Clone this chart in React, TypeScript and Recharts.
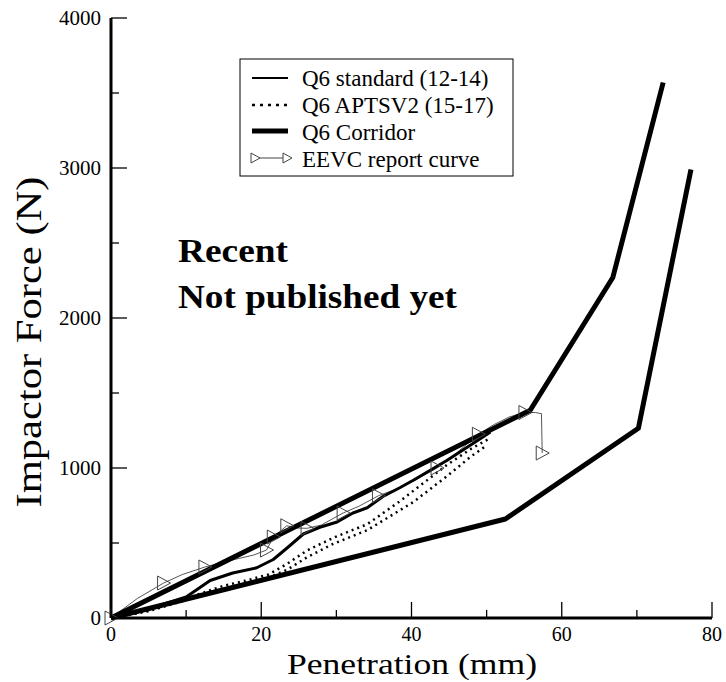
import React from "react";
import { LineChart, Line, XAxis, YAxis } from "recharts";

// Q6 corridor (upper / lower bound)
const corridorUpX = [0, 55.8, 66.8, 73.5];
const corridorUpY = [0, 1385, 2270, 3570];
const corridorLoX = [0, 52.5, 70.2, 77.2];
const corridorLoY = [0, 660, 1265, 2990];

// Q6 standard (12-14)
const standardX = [0, 5, 10, 13.2, 16.2, 19.4, 21.6, 23.4, 25.6, 27.8, 30.1, 32.2, 34.1, 36.2, 38.5, 40.3, 44.7, 49, 50.5];
const standardY = [0, 60, 140, 250, 300, 335, 390, 465, 560, 605, 640, 700, 735, 810, 870, 920, 1050, 1190, 1240];

// Q6 APTSV2 (15-17), two runs
const aptsAX = [0, 5, 10, 15, 18, 21, 23.4, 26.1, 29.6, 34.1, 38.5, 40.3, 44.7, 48, 50.5];
const aptsAY = [0, 50, 130, 215, 250, 290, 360, 450, 535, 625, 780, 850, 1020, 1130, 1200];
const aptsBX = [0, 5, 10, 15, 18, 21, 23.4, 26.1, 29.6, 34.1, 38.5, 40.3, 44.7, 48, 50];
const aptsBY = [0, 45, 120, 195, 235, 270, 320, 405, 495, 585, 720, 775, 945, 1080, 1150];

// EEVC report curve, mark = triangle drawn
const eevcX = [0, 3.5, 7.0, 9.5, 12.5, 16, 19, 20.7, 21.6, 23.4, 24.8, 26.1, 28, 30.9, 33, 35.6, 38, 40.5, 43.4, 46, 48.9, 51, 53, 55.1, 56.5, 57.3, 57.4];
const eevcY = [0, 130, 233, 290, 340, 385, 420, 453, 540, 615, 600, 598, 620, 700, 745, 815, 860, 920, 1000, 1100, 1225, 1290, 1340, 1370, 1370, 1362, 1100];
const eevcMark = [1, 0, 1, 0, 1, 0, 0, 1, 1, 1, 0, 1, 0, 1, 0, 1, 0, 0, 1, 0, 1, 0, 0, 1, 0, 0, 1];

const xTicks = [0, 10, 20, 30, 40, 50, 60, 70, 80];
const yTicks = [0, 500, 1000, 1500, 2000, 2500, 3000, 3500, 4000];

const legendItems = ["Q6 standard (12-14)", "Q6 APTSV2 (15-17)", "Q6 Corridor", "EEVC report curve"];

const pts = (xs: number[], ys: number[]) => xs.map((x, i) => ({ x, y: ys[i] }));

const serif =
  '"Liberation Serif", LiberationSerif, "DejaVu Serif", DejaVuSerif, "Noto Serif", Tinos, FreeSerif, Times, "Times New Roman", serif';

const BottomTick = (p: any) => {
  const v = p.payload.value;
  const major = v % 20 === 0;
  return (
    <g>
      <line x1={p.x} y1={p.y} x2={p.x} y2={p.y - (major ? 16 : 8)} stroke="#000" strokeWidth={1.3} />
      {major && (
        <text x={p.x} y={p.y + 23} textAnchor="middle" fontSize={20} fontFamily={serif} fill="#000">
          {v}
        </text>
      )}
    </g>
  );
};

const TopTick = (p: any) => {
  const major = p.payload.value % 20 === 0;
  return <line x1={p.x} y1={p.y} x2={p.x} y2={p.y + (major ? 16 : 8)} stroke="#000" strokeWidth={1.3} />;
};

const LeftTick = (p: any) => {
  const v = p.payload.value;
  const major = v % 1000 === 0;
  return (
    <g>
      <line x1={p.x} y1={p.y} x2={p.x + (major ? 16 : 8)} y2={p.y} stroke="#000" strokeWidth={1.3} />
      {major && (
        <text x={p.x - 10} y={p.y + 7} textAnchor="end" fontSize={21} fontFamily={serif} fill="#000">
          {v}
        </text>
      )}
    </g>
  );
};

const RightTick = (p: any) => {
  const major = p.payload.value % 1000 === 0;
  return <line x1={p.x} y1={p.y} x2={p.x - (major ? 16 : 8)} y2={p.y} stroke="#000" strokeWidth={1.3} />;
};

const Triangle = (p: any) => {
  if (!p.payload || !p.payload.m) return <g key={p.index} />;
  const { cx, cy } = p;
  return (
    <path
      key={p.index}
      d={`M${cx - 6},${cy - 7} L${cx + 7},${cy} L${cx - 6},${cy + 7} Z`}
      fill="none"
      stroke="#444"
      strokeWidth={1}
    />
  );
};

const App: React.FC = () => {
  const eevc = eevcX.map((x, i) => ({ x, y: eevcY[i], m: eevcMark[i] }));
  const lineProps = { type: "linear" as const, dataKey: "y", dot: false, isAnimationActive: false, strokeLinejoin: "round" as const };

  return (
    <div style={{ position: "absolute", left: 0, top: 0, width: 726, height: 682, background: "#fff", fontFamily: serif }}>
      <LineChart width={726} height={682} margin={{ top: 18, right: 14, bottom: 0, left: 0 }}>
        <XAxis
          type="number"
          dataKey="x"
          domain={[0, 80]}
          ticks={xTicks}
          height={64}
          tickSize={0}
          tickMargin={0}
          tickLine={false}
          tick={BottomTick}
          axisLine={{ stroke: "#000", strokeWidth: 3 }}
        />
        <XAxis
          xAxisId="t"
          orientation="top"
          type="number"
          dataKey="x"
          domain={[0, 80]}
          ticks={xTicks}
          height={0}
          tickSize={0}
          tickMargin={0}
          tickLine={false}
          tick={TopTick}
          axisLine={{ stroke: "#000", strokeWidth: 1.3 }}
        />
        <YAxis
          type="number"
          domain={[0, 4000]}
          ticks={yTicks}
          width={111}
          tickSize={0}
          tickMargin={0}
          tickLine={false}
          tick={LeftTick}
          axisLine={{ stroke: "#000", strokeWidth: 3 }}
        />
        <YAxis
          yAxisId="r"
          orientation="right"
          type="number"
          domain={[0, 4000]}
          ticks={yTicks}
          width={0}
          tickSize={0}
          tickMargin={0}
          tickLine={false}
          tick={RightTick}
          axisLine={{ stroke: "#000", strokeWidth: 1.3 }}
        />

        <Line {...lineProps} data={pts(aptsAX, aptsAY)} stroke="#000" strokeWidth={2.5} strokeDasharray="2 4" />
        <Line {...lineProps} data={pts(aptsBX, aptsBY)} stroke="#000" strokeWidth={2.5} strokeDasharray="2 4" />
        <Line {...lineProps} data={eevc} stroke="#555" strokeWidth={1} dot={Triangle} />
        <Line {...lineProps} data={pts(standardX, standardY)} stroke="#000" strokeWidth={3} />
        <Line {...lineProps} data={pts(corridorUpX, corridorUpY)} stroke="#000" strokeWidth={5} />
        <Line {...lineProps} data={pts(corridorLoX, corridorLoY)} stroke="#000" strokeWidth={5} />
      </LineChart>

      <svg width={726} height={682} fontFamily={serif} style={{ position: "absolute", left: 0, top: 0, pointerEvents: "none" }}>
        <text
          transform="translate(41,342) rotate(-90)"
          textAnchor="middle"
          fontSize={36}
          textLength={331}
          lengthAdjust="spacingAndGlyphs"
        >
          Impactor Force (N)
        </text>
        <text x={412} y={674} textAnchor="middle" fontSize={29} textLength={250} lengthAdjust="spacingAndGlyphs">
          Penetration (mm)
        </text>
        <text x={178} y={262} fontSize={33} fontWeight="bold" textLength={110} lengthAdjust="spacingAndGlyphs">
          Recent
        </text>
        <text x={178} y={308} fontSize={33} fontWeight="bold" textLength={279} lengthAdjust="spacingAndGlyphs">
          Not published yet
        </text>

        <rect x={240} y={59} width={273} height={117} fill="#fff" stroke="#000" strokeWidth={1} />
        <line x1={252} y1={78} x2={288} y2={78} stroke="#000" strokeWidth={2} />
        <line x1={252} y1={105} x2={288} y2={105} stroke="#000" strokeWidth={2.5} strokeDasharray="3 5" />
        <line x1={252} y1={131} x2={288} y2={131} stroke="#000" strokeWidth={5} />
        <line x1={256} y1={158} x2={288} y2={158} stroke="#444" strokeWidth={1} />
        <path d="M251,153 L260,158 L251,163 Z" fill="#fff" stroke="#444" strokeWidth={1} />
        <path d="M283,153 L292,158 L283,163 Z" fill="#fff" stroke="#444" strokeWidth={1} />
        {legendItems.map((t, i) => (
          <text key={t} x={302} y={86 + i * 27} fontSize={23}>
            {t}
          </text>
        ))}
      </svg>
    </div>
  );
};

export default App;
